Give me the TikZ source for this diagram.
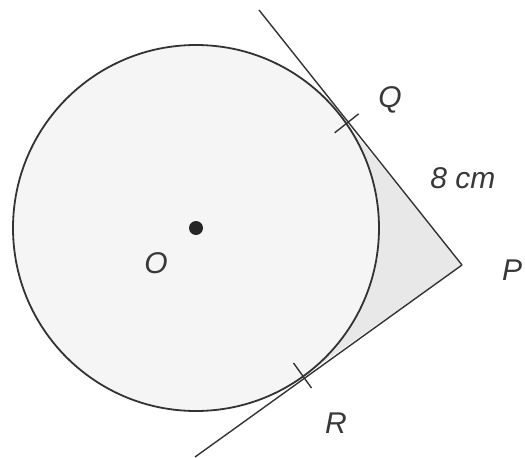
\documentclass[tikz,border=0pt]{standalone}
\usepackage{fontspec}
\setmainfont{Liberation Sans}
\usetikzlibrary{calc}
\begin{document}
\begin{tikzpicture}[x=1pt,y=-1pt,
  lbl/.style={font=\fontsize{30}{34}\selectfont\itshape, text=black!78, inner sep=0pt},
  ln/.style={draw=black!80, line width=1.4pt},
  tick/.style={draw=black!80, line width=1.4pt}]
\useasboundingbox (0,0) rectangle (525,458);
\coordinate (C) at (196,228);
\coordinate (P) at (462,265);
\coordinate (Q) at (337.9,112.5);
\coordinate (R) at (301.1,377.8);
\coordinate (Qend) at (259,10);
\coordinate (Rend) at (195,457);
% shaded kite region
\fill[black!9] (C) -- (Q) -- (P) -- (R) -- cycle;
% circle
\fill[black!4] (C) circle (183);
\draw[black!80, line width=1.8pt] (C) circle (183);
% tangent lines
\draw[ln] (P) -- (Qend);
\draw[ln] (P) -- (Rend);
% tick marks
\coordinate (tq) at (346.7,123.3);
\coordinate (tr) at (302.5,375.5);
\draw[tick] ($(tq)+(12,-9.5)$) -- ($(tq)+(-12,9.5)$);
\draw[tick] ($(tr)+(-9,-12.5)$) -- ($(tr)+(9,12.5)$);
% centre dot
\fill[black!85] (C) circle (7);
% labels
\node[lbl] (lQ) at (390,100) {Q};
\node[lbl] (l8) at (463,178) {8 cm};
\node[lbl] (lP) at (512,270) {P};
\node[lbl] (lR) at (336,423) {R};
\node[lbl] (lO) at (156,263) {O};
\end{tikzpicture}
\end{document}
